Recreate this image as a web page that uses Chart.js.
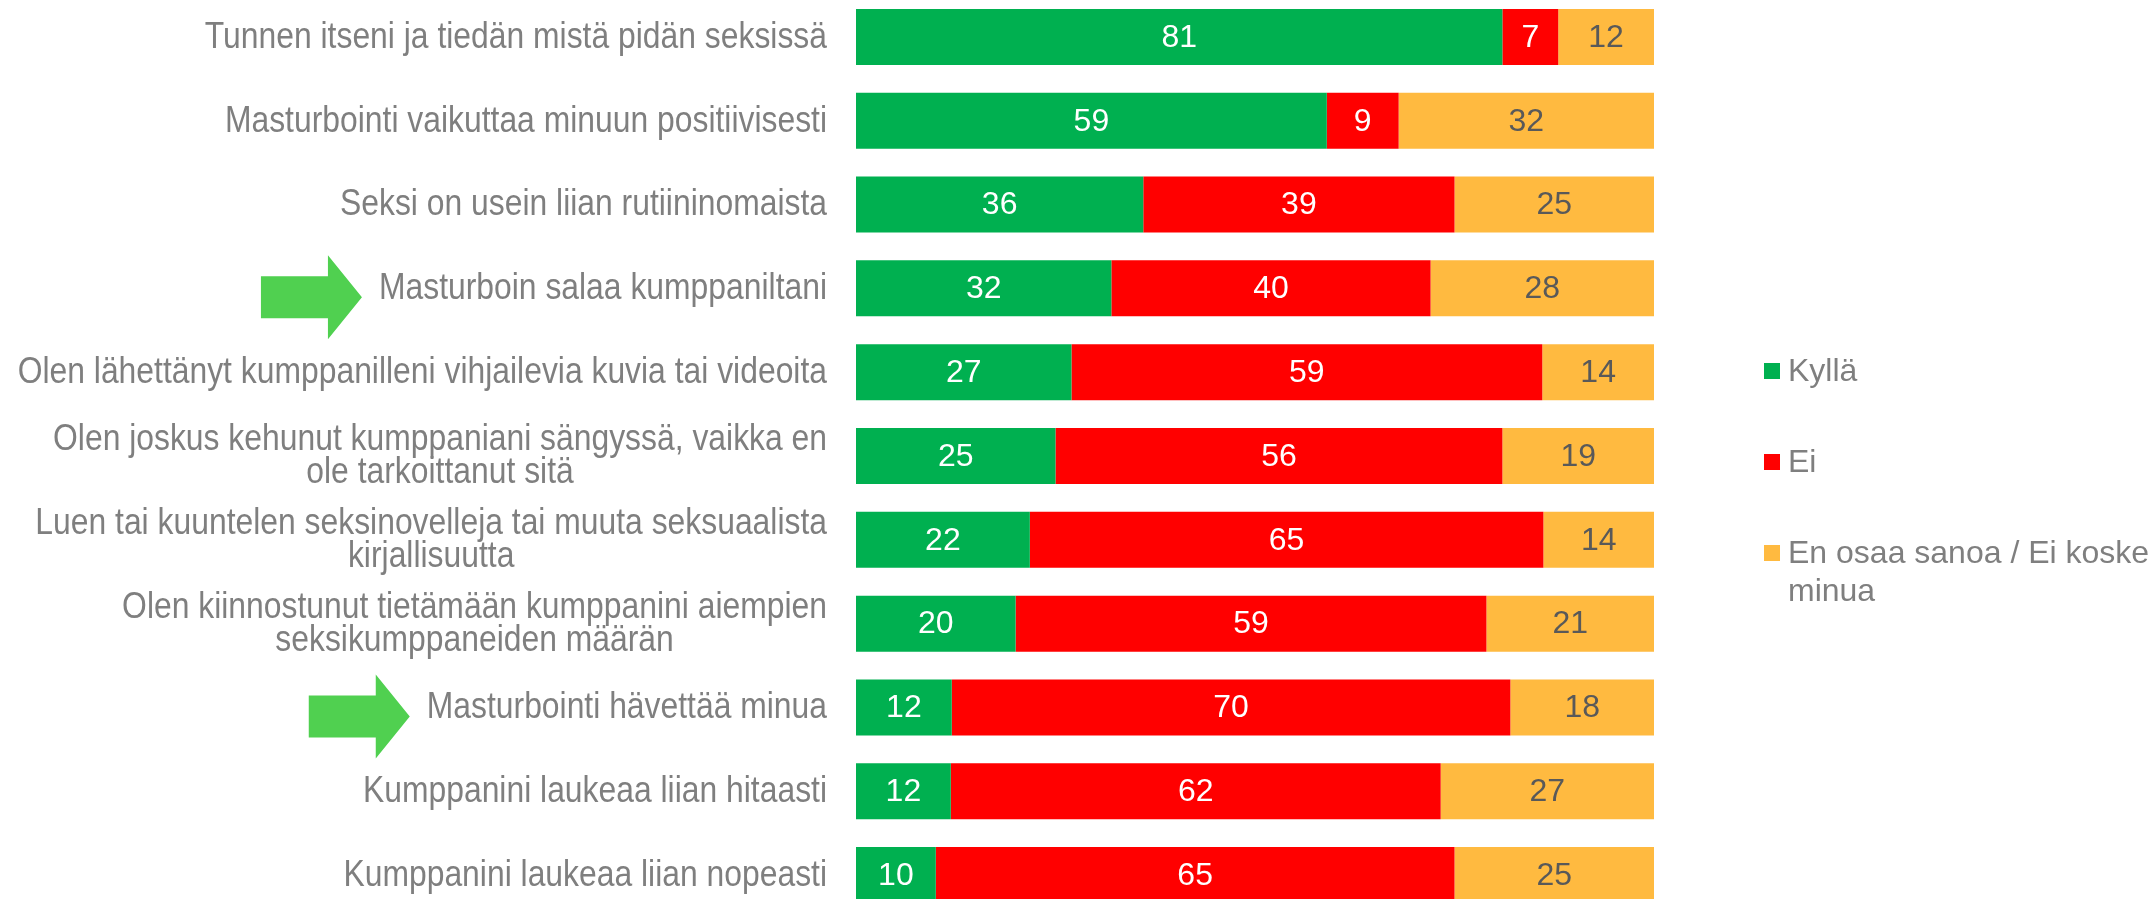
<!DOCTYPE html>
<html>
<head>
<meta charset="utf-8">
<script src="https://cdn.jsdelivr.net/npm/chart.js@4/dist/chart.umd.min.js"></script>
<style>
  html, body { margin: 0; padding: 0; background: #fff; overflow: hidden; }
  #wrap { position: absolute; left: 0; top: -5px; width: 2151px; height: 922px; }
</style>
</head>
<body>
<div id="wrap"><canvas id="myChart"></canvas></div>
<script>
  // Rows, top to bottom
  const categories = [
    ['Tunnen itseni ja tiedän mistä pidän seksissä'],
    ['Masturbointi vaikuttaa minuun positiivisesti'],
    ['Seksi on usein liian rutiininomaista'],
    ['Masturboin salaa kumppaniltani'],
    ['Olen lähettänyt kumppanilleni vihjailevia kuvia tai videoita'],
    ['Olen joskus kehunut kumppaniani sängyssä, vaikka en', 'ole tarkoittanut sitä'],
    ['Luen tai kuuntelen seksinovelleja tai muuta seksuaalista', 'kirjallisuutta'],
    ['Olen kiinnostunut tietämään kumppanini aiempien', 'seksikumppaneiden määrän'],
    ['Masturbointi hävettää minua'],
    ['Kumppanini laukeaa liian hitaasti'],
    ['Kumppanini laukeaa liian nopeasti']
  ]
  const seriesNames = ['Kyllä', 'Ei', 'En osaa sanoa / Ei koske minua']
  const kylla = [81, 59, 36, 32, 27, 25, 22, 20, 12, 12, 10]
  const ei = [7, 9, 39, 40, 59, 56, 65, 59, 70, 62, 65]
  const eos = [12, 32, 25, 28, 14, 19, 14, 21, 18, 27, 25]
  // rows marked with an arrow
  const arrowRows = [3, 8]

  const colors = ['#00B050', '#FF0000', '#FFBA40']
  const labelColors = ['#ffffff', '#ffffff', '#595959']
  const FONT = '32px "Liberation Sans", Arial, sans-serif'
  // row labels are a bit narrow and tall: bigger font squeezed sideways
  const ROW_FONT = '36px "Liberation Sans", Arial, sans-serif'
  const SX = 0.885
  const TEXT_GRAY = '#7f7f7f'

  // 100 % stacked: bars are shares of the row total, labels keep the raw value
  const raw = [kylla, ei, eos]
  const totals = kylla.map((v, i) => v + ei[i] + eos[i])
  const shares = raw.map(arr => arr.map((v, i) => v / totals[i] * 100))

  function drawSqueezed(ctx, t, x, y) {
    ctx.save()
    ctx.translate(x, y)
    ctx.scale(SX, 1)
    ctx.fillText(t, 0, 0)
    ctx.restore()
  }

  const rowLabels = {
    id: 'rowLabels',
    afterDraw(chart) {
      const ctx = chart.ctx
      const yScale = chart.scales.y
      const right = chart.chartArea.left - 29
      const lineH = 33
      ctx.save()
      ctx.font = ROW_FONT
      ctx.textBaseline = 'middle'
      ctx.textAlign = 'center'
      categories.forEach((lines, i) => {
        const cy = yScale.getPixelForValue(i)
        const w = Math.max(...lines.map(l => ctx.measureText(l).width * SX))
        const cx = right - w / 2
        ctx.fillStyle = TEXT_GRAY
        lines.forEach((l, k) => {
          drawSqueezed(ctx, l, cx, cy + 1 + (k - (lines.length - 1) / 2) * lineH)
        })
        if (arrowRows.includes(i)) {
          // block arrow pointing at the label
          const tip = right - w - 17
          const ay = cy + 9
          ctx.fillStyle = '#50D050'
          ctx.beginPath()
          ctx.moveTo(tip - 101, ay - 21)
          ctx.lineTo(tip - 34, ay - 21)
          ctx.lineTo(tip - 34, ay - 42)
          ctx.lineTo(tip, ay)
          ctx.lineTo(tip - 34, ay + 42)
          ctx.lineTo(tip - 34, ay + 21)
          ctx.lineTo(tip - 101, ay + 21)
          ctx.closePath()
          ctx.fill()
        }
      })
      ctx.restore()
    }
  }

  const barValues = {
    id: 'barValues',
    afterDatasetsDraw(chart) {
      const ctx = chart.ctx
      ctx.save()
      ctx.font = FONT
      ctx.textAlign = 'center'
      ctx.textBaseline = 'middle'
      chart.data.datasets.forEach((ds, d) => {
        chart.getDatasetMeta(d).data.forEach((bar, i) => {
          const p = bar.getCenterPoint()
          ctx.fillStyle = labelColors[d]
          ctx.fillText(String(raw[d][i]), p.x, p.y + 1)
        })
      })
      ctx.restore()
    }
  }

  const sideLegend = {
    id: 'sideLegend',
    afterDraw(chart) {
      const ctx = chart.ctx
      const boxX = 1764
      const textX = 1788
      const maxW = chart.width - textX + 4
      const firstY = 376
      const step = 91
      ctx.save()
      ctx.font = FONT
      ctx.textAlign = 'left'
      ctx.textBaseline = 'middle'
      chart.data.datasets.forEach((ds, d) => {
        const cy = firstY + d * step
        ctx.fillStyle = ds.backgroundColor
        ctx.fillRect(boxX, cy - 8, 16, 16)
        // simple word wrap
        const words = ds.label.split(' ')
        const lines = []
        let cur = ''
        words.forEach(w => {
          const t = cur ? cur + ' ' + w : w
          if (cur && ctx.measureText(t).width > maxW) {
            lines.push(cur)
            cur = w
          } else {
            cur = t
          }
        })
        lines.push(cur)
        ctx.fillStyle = TEXT_GRAY
        lines.forEach((l, k) => ctx.fillText(l, textX, cy + 1 + k * 38))
      })
      ctx.restore()
    }
  }

  const ctx = document.getElementById('myChart')
  // eslint-disable-next-line no-unused-vars
  const myChart = new Chart(ctx, {
    type: 'bar',
    data: {
      labels: categories,
      datasets: seriesNames.map((name, d) => ({
        label: name,
        data: shares[d],
        backgroundColor: colors[d],
        borderWidth: 0,
        categoryPercentage: 1,
        barPercentage: 0.668
      }))
    },
    options: {
      indexAxis: 'y',
      responsive: true,
      maintainAspectRatio: false,
      animation: false,
      layout: {
        padding: { left: 856, right: 497, top: 0, bottom: 0 }
      },
      scales: {
        x: { stacked: true, min: 0, max: 100, display: false },
        y: { stacked: true, display: false }
      },
      plugins: {
        legend: { display: false },
        tooltip: { enabled: false }
      }
    },
    plugins: [rowLabels, barValues, sideLegend]
  })
</script>
</body>
</html>
